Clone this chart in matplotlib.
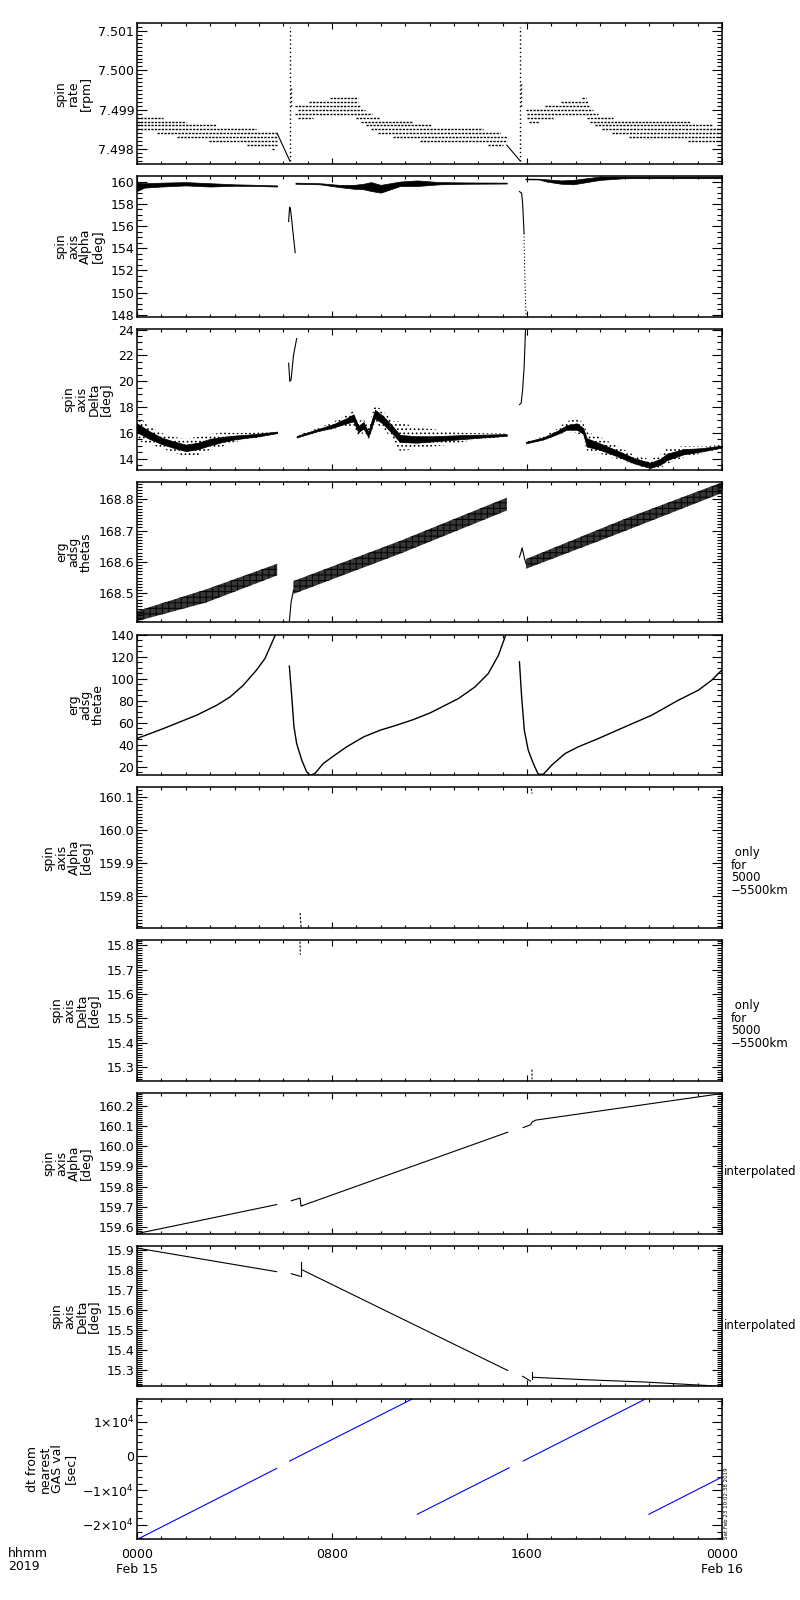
import matplotlib
matplotlib.use('Agg')
import matplotlib.pyplot as plt
from matplotlib.ticker import MultipleLocator, FormatStrFormatter

plt.rcParams['font.family'] = ['DejaVu Sans']
plt.rcParams['hatch.linewidth'] = 0.7

# All times are hours since 2019-02-15 00:00 UT

# --- spin rate [rpm]: quantized levels, drawn as dotted runs
sr_level = [7.4988, 7.4987, 7.4986, 7.4985, 7.4984, 7.4983, 7.4982, 7.4981, 7.4980,
            7.4993, 7.4992, 7.4991, 7.4990, 7.4989, 7.4988, 7.4988, 7.4987, 7.4986,
            7.4985, 7.4984, 7.4983, 7.4982, 7.4981,
            7.4993, 7.4992, 7.4991, 7.4990, 7.4989, 7.4988, 7.4988, 7.4987, 7.4987,
            7.4986, 7.4985, 7.4984, 7.4983, 7.4982]
sr_t0 = [0.0, 0.0, 0.0, 0.0, 0.82, 1.64, 2.94, 4.52, 5.55,
         7.92, 7.07, 6.48, 6.59, 6.48, 6.6, 8.98, 9.2, 9.4,
         9.6, 9.9, 10.5, 11.6, 14.4,
         18.24, 17.4, 16.74, 15.96, 15.99, 16.0, 18.45, 16.1, 18.6,
         18.8, 19.06, 19.5, 20.2, 22.6]
sr_t1 = [1.07, 2.0, 3.25, 4.87, 5.75, 5.75, 5.75, 5.75, 5.62,
         9.08, 9.08, 9.15, 9.35, 9.64, 7.2, 9.97, 11.3, 12.1,
         14.2, 14.9, 15.17, 15.17, 15.0,
         18.42, 18.49, 18.58, 18.69, 18.93, 17.07, 19.54, 16.5, 22.7,
         23.6, 24.0, 24.0, 24.0, 24.0]
sr_ramp1_t = [5.75, 6.27]
sr_ramp1_v = [7.4984, 7.4977]
sr_ramp2_t = [15.17, 15.72]
sr_ramp2_v = [7.4981, 7.4977]
sr_spike_t = [6.27, 6.33, 15.71, 15.77]
sr_spike_lo = [7.4977, 7.4991, 7.4977, 7.4991]
sr_spike_hi = [7.5011, 7.4996, 7.5011, 7.4997]

# --- spin axis Alpha [deg]
al1_t = [0, 0.3, 1.0, 2.0, 3.0, 4.0, 5.0, 5.75]
al1_lo = [159.15, 159.45, 159.55, 159.65, 159.55, 159.62, 159.6, 159.55]
al1_hi = [159.9, 159.85, 159.9, 159.95, 159.85, 159.75, 159.7, 159.65]
al2_t = [6.5, 7.5, 8.3, 8.9, 9.3, 9.6, 10.0, 10.4, 10.8, 11.5, 12.4, 13.5, 15.17]
al2_lo = [159.8, 159.75, 159.5, 159.35, 159.3, 159.15, 159.0, 159.3, 159.6, 159.6, 159.75, 159.8, 159.82]
al2_hi = [159.9, 159.85, 159.7, 159.7, 159.8, 159.95, 159.7, 159.85, 160.0, 160.1, 159.95, 159.92, 159.9]
al3_t = [15.93, 16.5, 16.8, 17.4, 17.9, 18.45, 19.0, 20.0, 24.0]
al3_lo = [160.2, 160.18, 160.0, 159.8, 159.75, 159.95, 160.15, 160.3, 160.3]
al3_hi = [160.27, 160.25, 160.2, 160.1, 160.15, 160.3, 160.45, 160.45, 160.45]
al_sp1_t = [6.22, 6.26, 6.29, 6.35, 6.42, 6.49]
al_sp1_v = [156.4, 157.7, 157.6, 156.5, 155.0, 153.6]
al_sp2_t = [15.69, 15.78, 15.82, 15.88]
al_sp2_v = [159.1, 158.95, 158.05, 155.35]
al_sp2_tail_t = [15.88, 15.9, 15.96]
al_sp2_tail_v = [155.35, 152.35, 147.9]

# --- spin axis Delta [deg]: dense core band and scattered outer band
de1_t = [0, 0.5, 1.0, 1.5, 2.0, 2.5, 3.0, 3.5, 4.0, 4.5, 5.0, 5.75]
de1_core_lo = [16.05, 15.55, 15.15, 14.85, 14.6, 14.75, 15.05, 15.3, 15.5, 15.63, 15.75, 15.99]
de1_core_hi = [16.75, 16.15, 15.65, 15.35, 15.1, 15.25, 15.55, 15.7, 15.8, 15.87, 15.95, 16.11]
de1_out_lo = [15.4, 15.15, 14.8, 14.5, 14.15, 14.3, 14.7, 14.95, 15.3, 15.5, 15.65, 15.95]
de1_out_hi = [17.4, 16.55, 16.0, 15.7, 15.55, 15.7, 15.9, 16.05, 16.0, 16.0, 16.05, 16.15]
de2_t = [6.55, 7.37, 8.05, 8.6, 8.88, 9.08, 9.29, 9.49, 9.76, 10.1, 10.5, 10.79,
         11.47, 12.16, 12.8, 13.5, 14.35, 15.17]
de2_core_lo = [15.65, 16.12, 16.42, 16.75, 16.9, 16.05, 16.35, 15.7, 17.15, 16.7, 15.9, 15.3,
               15.25, 15.35, 15.45, 15.55, 15.68, 15.78]
de2_core_hi = [15.77, 16.28, 16.68, 17.15, 17.45, 16.55, 16.85, 16.1, 17.8, 17.3, 16.5, 15.85,
               15.75, 15.75, 15.8, 15.85, 15.88, 15.92]
de2_out_lo = [15.62, 16.05, 16.3, 16.5, 16.6, 15.75, 16.0, 15.4, 16.8, 16.3, 15.5, 14.6,
              14.8, 14.95, 15.1, 15.35, 15.55, 15.75]
de2_out_hi = [15.8, 16.35, 16.85, 17.4, 17.75, 16.9, 17.1, 16.4, 18.2, 17.7, 16.9, 16.9,
              16.4, 16.3, 16.1, 16.0, 15.98, 15.95]
de3_t = [15.96, 16.67, 17.22, 17.63, 18.04, 18.3, 18.45, 18.99, 19.7, 20.4, 21.06, 21.47,
         21.74, 22.42, 23.1, 24.0]
de3_core_lo = [15.2, 15.5, 15.9, 16.25, 16.25, 15.95, 14.95, 14.7, 14.2, 13.65, 13.3, 13.55,
               13.9, 14.35, 14.55, 14.87]
de3_core_hi = [15.32, 15.66, 16.15, 16.6, 16.75, 16.4, 15.6, 15.2, 14.65, 14.05, 13.7, 14.0,
               14.4, 14.75, 14.82, 15.02]
de3_out_lo = [15.18, 15.45, 15.8, 16.1, 16.0, 15.7, 14.65, 14.4, 14.0, 13.55, 13.2, 13.3,
              13.6, 14.1, 14.4, 14.82]
de3_out_hi = [15.35, 15.72, 16.3, 16.9, 17.15, 16.8, 16.1, 15.7, 15.0, 14.3, 13.95, 14.3,
              14.8, 15.0, 14.95, 15.08]
de_sp1_t = [6.22, 6.27, 6.32, 6.42, 6.55]
de_sp1_v = [21.4, 20.0, 20.1, 22.0, 23.3]
de_sp2_t = [15.69, 15.76, 15.82, 15.88, 15.91, 15.94]
de_sp2_v = [18.2, 18.3, 19.35, 21.0, 22.5, 24.1]

# --- erg adsg thetas: oscillating band
ts1_t = [0, 2.86, 5.75]
ts1_lo = [168.411, 168.471, 168.557]
ts1_hi = [168.443, 168.513, 168.594]
ts2_t = [6.42, 10.79, 15.17]
ts2_lo = [168.498, 168.626, 168.764]
ts2_hi = [168.539, 168.667, 168.805]
ts3_t = [15.96, 20.0, 24.0]
ts3_lo = [168.578, 168.698, 168.82]
ts3_hi = [168.609, 168.737, 168.854]
ts_pre2_t = [6.25, 6.32, 6.42]
ts_pre2_v = [168.41, 168.47, 168.51]
ts_pre3_t = [15.69, 15.75, 15.8, 15.9, 15.96]
ts_pre3_v = [168.615, 168.63, 168.645, 168.61, 168.595]

# --- erg adsg thetae
te1_t = [0.0, 1.08, 2.45, 3.27, 3.82, 4.36, 4.9, 5.25, 5.52, 5.69, 5.75]
te1_v = [45.8, 54.8, 67, 76, 83.6, 94.2, 107.9, 118.5, 132, 140.6, 143]
te2_t = [6.25, 6.35, 6.44, 6.55, 6.76, 6.96, 7.1, 7.3, 7.64, 8.05, 8.6, 9.3, 9.97,
         10.65, 11.34, 12.02, 13.18, 13.87, 14.41, 14.83, 15.14, 15.2]
te2_v = [111.5, 83.6, 56.4, 41.2, 26.1, 15.5, 12.4, 14, 23, 29.7, 38.2, 47.3, 53.3,
         57.9, 63, 69, 82, 92.7, 104.8, 121.5, 140.6, 143]
te3_t = [15.69, 15.78, 15.89, 16.05, 16.26, 16.46, 16.67, 17.01, 17.56, 18.1, 18.93,
         20.02, 21.12, 22.21, 23.03, 23.58, 23.92, 24.0]
te3_v = [115.5, 83.6, 53.3, 35.2, 23, 13.3, 13.3, 21.5, 32.1, 38.2, 45.8,
         56.4, 67, 80.6, 89.7, 98.8, 106.4, 108]

# --- spin axis Alpha / Delta, only for 5000-5500 km
ao_t = [[6.69, 6.74], [16.18, 16.2]]
ao_v = [[159.75, 159.70], [160.125, 160.11]]
do_t = [[6.69, 6.7], [16.2, 16.21]]
do_v = [[15.816, 15.762], [15.29, 15.25]]

# --- spin axis Alpha / Delta, interpolated
ai_t = [[0, 5.73], [6.33, 6.69, 6.73, 6.76, 15.21], [15.84, 16.15, 16.2, 16.36, 24.0]]
ai_v = [[159.567, 159.711], [159.73, 159.743, 159.703, 159.705, 160.07],
        [160.093, 160.107, 160.12, 160.13, 160.262]]
di_t = [[0, 5.73], [6.33, 6.69], [6.74, 6.74], [6.76, 15.21], [15.82, 16.15],
        [16.22, 16.22], [16.25, 18.37, 20.89, 23.52, 24.0]]
di_v = [[15.908, 15.79], [15.78, 15.767], [15.77, 15.84], [15.80, 15.296],
        [15.267, 15.243], [15.255, 15.29], [15.262, 15.25, 15.238, 15.22, 15.215]]

# --- dt from nearest GAS val [sec]
dt_t = [[0, 5.73], [6.26, 11.45], [11.5, 15.27], [15.84, 20.99], [21.0, 24.0]]
dt_v = [[-24300, -3600], [-1450, 17200], [-16950, -3400], [-1450, 17100], [-16950, -6100]]
dt_ticks = [-20000, -10000, 0, 10000]
dt_ticklabels = ['\u22122\u00d710$^4$', '\u22121\u00d710$^4$', '0', '1\u00d710$^4$']

xtick_pos = [0, 8, 16, 24]
xtick_labels = ['0000\nFeb 15', '0800', '1600', '0000\nFeb 16']


def setupPanel(ax, ylim, major, minor, fmt, label):
    ax.set_xlim(0, 24)
    ax.set_ylim(*ylim)
    ax.xaxis.set_major_locator(MultipleLocator(8))
    ax.xaxis.set_minor_locator(MultipleLocator(1))
    ax.yaxis.set_major_locator(MultipleLocator(major))
    ax.yaxis.set_minor_locator(MultipleLocator(minor))
    if fmt:
        ax.yaxis.set_major_formatter(FormatStrFormatter(fmt))
    ax.tick_params(which='both', direction='in', top=True, right=True, width=0.8)
    ax.tick_params(axis='x', which='major', length=4.3, labelbottom=False)
    ax.tick_params(axis='x', which='minor', length=2.2)
    ax.tick_params(axis='y', which='major', length=7.2, labelsize=9, pad=2)
    ax.tick_params(axis='y', which='minor', length=3.6)
    ax.set_ylabel(label, fontsize=9, linespacing=0.95, labelpad=4)
    for s in ax.spines.values():
        s.set_linewidth(1.1)


fig = plt.figure(figsize=(8, 16), dpi=100)
axes = []
for i in range(10):
    top_px = 23.3 + 152.8 * i
    axes.append(fig.add_axes([137 / 800, 1 - (top_px + 140.7) / 1600, 585 / 800, 140.7 / 1600]))

lw = 0.8

# panel 1: spin rate
ax = axes[0]
ax.hlines(sr_level, sr_t0, sr_t1, colors='k', linewidth=1.0, linestyles=(0, (1.6, 0.9)))
ax.plot(sr_ramp1_t, sr_ramp1_v, 'k-', lw=lw)
ax.plot(sr_ramp2_t, sr_ramp2_v, 'k-', lw=lw)
ax.vlines(sr_spike_t, sr_spike_lo, sr_spike_hi, colors='k', linewidth=1.0, linestyles=(0, (1, 2)))
setupPanel(ax, (7.49762, 7.501196), 0.001, 0.0001, '%.3f', 'spin\nrate\n[rpm]')

# panel 2: spin axis Alpha
ax = axes[1]
for t, lo, hi in [(al1_t, al1_lo, al1_hi), (al2_t, al2_lo, al2_hi), (al3_t, al3_lo, al3_hi)]:
    ax.fill_between(t, lo, hi, facecolor='k', edgecolor='k', linewidth=0.5)
ax.plot(al_sp1_t, al_sp1_v, 'k-', lw=lw)
ax.plot(al_sp2_t, al_sp2_v, 'k-', lw=lw)
ax.plot(al_sp2_tail_t, al_sp2_tail_v, 'k', lw=lw, linestyle=(0, (1, 2)))
setupPanel(ax, (147.82, 160.49), 2, 0.5, '%d', 'spin\naxis\nAlpha\n[deg]')

# panel 3: spin axis Delta
ax = axes[2]
for t, olo, ohi, clo, chi in [(de1_t, de1_out_lo, de1_out_hi, de1_core_lo, de1_core_hi),
                              (de2_t, de2_out_lo, de2_out_hi, de2_core_lo, de2_core_hi),
                              (de3_t, de3_out_lo, de3_out_hi, de3_core_lo, de3_core_hi)]:
    ax.fill_between(t, olo, ohi, facecolor='none', edgecolor='k', hatch='....', linewidth=0)
    ax.fill_between(t, clo, chi, facecolor='k', edgecolor='k', linewidth=0.5)
ax.plot(de_sp1_t, de_sp1_v, 'k-', lw=lw)
ax.plot(de_sp2_t, de_sp2_v, 'k-', lw=lw)
setupPanel(ax, (13.17, 24.05), 2, 0.5, '%d', 'spin\naxis\nDelta\n[deg]')

# panel 4: erg adsg thetas (dense vertical stripes)
ax = axes[3]
for t, lo, hi in [(ts1_t, ts1_lo, ts1_hi), (ts2_t, ts2_lo, ts2_hi), (ts3_t, ts3_lo, ts3_hi)]:
    ax.fill_between(t, lo, hi, facecolor='none', edgecolor='k', hatch='|' * 14, linewidth=0)
    ax.fill_between(t, lo, hi, facecolor='none', edgecolor='k', hatch='-' * 3, linewidth=0)
ax.plot(ts_pre2_t, ts_pre2_v, 'k-', lw=lw)
ax.plot(ts_pre3_t, ts_pre3_v, 'k-', lw=lw)
setupPanel(ax, (168.407, 168.856), 0.1, 0.01, '%.1f', 'erg\nadsg\nthetas')

# panel 5: erg adsg thetae
ax = axes[4]
for t, v in [(te1_t, te1_v), (te2_t, te2_v), (te3_t, te3_v)]:
    ax.plot(t, v, 'k-', lw=1.0)
setupPanel(ax, (12.45, 140.3), 20, 5, '%d', 'erg\nadsg\nthetae')

# panel 6/7: only for 5000-5500 km
ax = axes[5]
for t, v in zip(ao_t, ao_v):
    ax.plot(t, v, 'k', lw=lw, linestyle=(0, (2, 1.5)))
setupPanel(ax, (159.705, 160.129), 0.1, 0.01, '%.1f', 'spin\naxis\nAlpha\n[deg]')
ax.text(1.0154, 0.40, ' only\nfor\n5000\n\u22125500km', transform=ax.transAxes,
        ha='left', va='center', fontsize=8.5, linespacing=0.95)

ax = axes[6]
for t, v in zip(do_t, do_v):
    ax.plot(t, v, 'k', lw=lw, linestyle=(0, (2, 1.5)))
setupPanel(ax, (15.244, 15.822), 0.1, 0.01, '%.1f', 'spin\naxis\nDelta\n[deg]')
ax.text(1.0154, 0.40, ' only\nfor\n5000\n\u22125500km', transform=ax.transAxes,
        ha='left', va='center', fontsize=8.5, linespacing=0.95)

# panel 8/9: interpolated
ax = axes[7]
for t, v in zip(ai_t, ai_v):
    ax.plot(t, v, 'k-', lw=lw)
setupPanel(ax, (159.567, 160.265), 0.1, 0.01, '%.1f', 'spin\naxis\nAlpha\n[deg]')
ax.text(1.0034, 0.44, 'interpolated', transform=ax.transAxes, ha='left', va='center', fontsize=8.5)

ax = axes[8]
for t, v in zip(di_t, di_v):
    ax.plot(t, v, 'k-', lw=lw)
setupPanel(ax, (15.2165, 15.92), 0.1, 0.01, '%.1f', 'spin\naxis\nDelta\n[deg]')
ax.text(1.0034, 0.435, 'interpolated', transform=ax.transAxes, ha='left', va='center', fontsize=8.5)

# panel 10: dt from nearest GAS value
ax = axes[9]
for t, v in zip(dt_t, dt_v):
    ax.plot(t, v, color='#0000ff', lw=lw)
setupPanel(ax, (-24215, 16773), 10000, 2000, None, 'dt from\nnearest\nGAS val\n[sec]')
ax.set_yticks(dt_ticks)
ax.set_yticklabels(dt_ticklabels)
ax.set_xticks(xtick_pos)
ax.set_xticklabels(xtick_labels, fontsize=9)
for lab in ax.get_xticklabels():
    lab.set_linespacing(0.95)
ax.tick_params(axis='x', which='major', labelbottom=True, pad=6)
ax.text(1.003, 0.0, 'Sat Feb 23 10:02:38 2019', transform=ax.transAxes, rotation=90,
        ha='left', va='bottom', fontsize=4)

fig.text(8 / 800, 1 - 1547 / 1600, 'hhmm\n2019', ha='left', va='top', fontsize=9, linespacing=0.95)

fig.savefig('out.png', dpi=100)
